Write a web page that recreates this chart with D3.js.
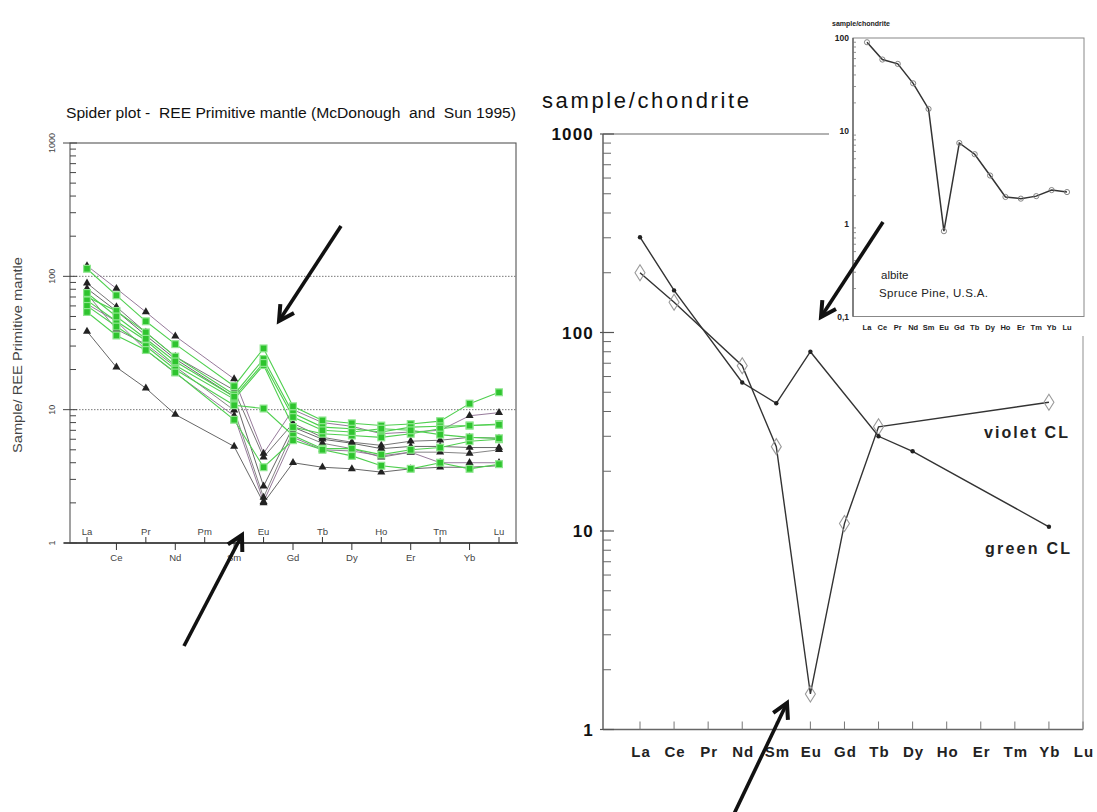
<!DOCTYPE html>
<html>
<head>
<meta charset="utf-8">
<script src="https://cdn.jsdelivr.net/npm/d3@7"></script>
<style>
  body { margin: 0; background: #fff; }
  svg { display: block; }
</style>
</head>
<body>
<svg id="fig" width="1097" height="812"></svg>
<script>
// ---------------- data ----------------
// Primitive-mantle normalised REE (Pm not analysed -> null)
const pmElements = ["La","Ce","Pr","Nd","Pm","Sm","Eu","Gd","Tb","Dy","Ho","Er","Tm","Yb","Lu"];
const pmTicks = [1, 10, 100, 1000];

const greenA = [114, 72, 46, 31, null, 15.0, 28.8, 10.6, 8.3, 7.9, 7.6, 7.8, 8.2, 11.1, 13.5];
const greenB = [70, 55, 38, 25, null, 13.0, 24.0, 9.4, 7.4, 7.2, 6.8, 7.4, 7.5, 7.6, 7.8];
const greenC = [66, 46, 33, 21.5, null, 12.0, 21.6, 7.4, 6.6, 6.4, 6.2, 6.6, 7.2, 7.6, 7.7];
const greenD = [60, 42, 30, 20, null, 10.8, 10.2, 6.4, 5.1, 5.1, 4.6, 5.0, 5.2, 5.8, 6.0];
const greenE = [54, 36, 28, 19, null, 8.4, 3.7, 5.9, 5.0, 4.5, 3.8, 3.6, 4.0, 3.6, 3.9];
const greenF = [75, 50, 34, 23, null, 12.5, 22.4, 8.8, 7.0, 6.8, 7.2, 7.0, 6.5, 6.2, 6.1];

const blackA = [120, 81, 54, 35.6, null, 17.0, 4.7, 10.0, 8.0, 7.5, 6.6, 6.8, 7.0, 9.0, 9.5];
const blackB = [89, 59, 38, 25, null, 14.0, 4.4, 7.9, 6.2, 5.7, 5.4, 5.8, 5.9, 6.2, 6.1];
const blackC = [81, 55, 36, 24, null, 12.5, 2.67, 7.4, 6.0, 5.6, 5.1, 5.3, 5.3, 5.2, 5.2];
const blackD = [74, 40, 31, 21, null, 9.9, 2.2, 6.9, 5.6, 5.1, 4.4, 4.8, 4.8, 4.7, 5.0];
const blackE = [62, 46, 28, 18.8, null, 9.0, 2.04, 6.2, 5.0, 4.9, 4.5, 4.8, 4.0, 4.0, 4.0];
const blackF = [38.7, 20.8, 14.5, 9.2, null, 5.3, 2.0, 4.0, 3.7, 3.6, 3.4, 3.6, 3.7, 3.7, 3.8];

// Chondrite normalised REE, cathodoluminescence-coloured feldspar
const chElements = ["La","Ce","Pr","Nd","Sm","Eu","Gd","Tb","Dy","Ho","Er","Tm","Yb","Lu"];
const chTicks = [1, 10, 100, 1000];
const violetCL = [200, 142, null, 68, 26.6, 1.51, 10.9, 33.5, null, null, null, null, 44.5, null];
const greenCL  = [302, 163, null, 56, 44, 80, null, 30, 25.2, null, null, null, 10.5, null];

// Albite, Spruce Pine, U.S.A.
const albite = [90, 58.6, 52.6, 32.5, 17.2, 0.83, 7.4, 5.6, 3.3, 1.94, 1.86, 1.98, 2.3, 2.19];
const albiteTicks = [0.1, 1, 10, 100];
const albiteTickText = ["0,1", "1", "10", "100"];

// ---------------- helpers ----------------
const svg = d3.select("#fig");
const FONT = "'Liberation Sans', Arial, Helvetica, sans-serif";

function pairs(domain, values) {
  return domain.map((e, i) => ({ e, v: values[i] })).filter(d => d.v != null);
}

function minorLogTicks(lo, hi) {
  const out = [];
  for (let dec = lo; dec < hi; dec *= 10) {
    for (let k = 2; k <= 9; k++) out.push(dec * k);
  }
  return out;
}

function arrow(g, tail, tip) {
  const ang = Math.atan2(tip[1] - tail[1], tip[0] - tail[0]);
  const len = 17, spread = 0.5;
  g.append("line")
    .attr("x1", tail[0]).attr("y1", tail[1])
    .attr("x2", tip[0] - 2 * Math.cos(ang)).attr("y2", tip[1] - 2 * Math.sin(ang))
    .attr("stroke", "#111").attr("stroke-width", 3.6);
  const a1 = [tip[0] - len * Math.cos(ang - spread), tip[1] - len * Math.sin(ang - spread)];
  const a2 = [tip[0] - len * Math.cos(ang + spread), tip[1] - len * Math.sin(ang + spread)];
  g.append("path")
    .attr("d", `M${a1}L${tip}L${a2}`)
    .attr("fill", "none").attr("stroke", "#111")
    .attr("stroke-width", 4).attr("stroke-linejoin", "miter");
}

// ---------------- left panel: primitive mantle spider plot ----------------
const L = { left: 70, right: 516, top: 143, bottom: 543, first: 87, last: 499 };
const xL = d3.scalePoint().domain(pmElements).range([L.first, L.last]);
const yL = d3.scaleLog().domain([1, 1000]).range([L.bottom, L.top]);
const gL = svg.append("g");

gL.append("text")
  .attr("x", 66).attr("y", 118)
  .attr("font-family", FONT).attr("font-size", 15.5).attr("fill", "#111")
  .attr("textLength", 450).attr("lengthAdjust", "spacingAndGlyphs")
  .style("white-space", "pre")
  .text("Spider plot -  REE Primitive mantle (McDonough  and  Sun 1995)");

// frame
gL.append("rect")
  .attr("x", L.left).attr("y", L.top)
  .attr("width", L.right - L.left).attr("height", L.bottom - L.top)
  .attr("fill", "none").attr("stroke", "#555").attr("stroke-width", 1.1);
gL.append("line")
  .attr("x1", L.left - 6).attr("x2", L.right + 2)
  .attr("y1", L.bottom).attr("y2", L.bottom)
  .attr("stroke", "#333").attr("stroke-width", 1.3);

// dotted reference lines
gL.selectAll("line.ref").data([10, 100]).join("line")
  .attr("x1", L.left).attr("x2", L.right)
  .attr("y1", d => yL(d)).attr("y2", d => yL(d))
  .attr("stroke", "#777").attr("stroke-width", 1).attr("stroke-dasharray", "1.5,1.5");

// y ticks
gL.selectAll("line.minor").data(minorLogTicks(1, 1000)).join("line")
  .attr("x1", L.left).attr("x2", L.left + 6)
  .attr("y1", d => yL(d)).attr("y2", d => yL(d))
  .attr("stroke", "#444").attr("stroke-width", 1);
gL.selectAll("line.major").data(pmTicks).join("line")
  .attr("x1", L.left - 7).attr("x2", L.left + 7)
  .attr("y1", d => yL(d)).attr("y2", d => yL(d))
  .attr("stroke", "#444").attr("stroke-width", 1);
gL.selectAll("text.ytick").data(pmTicks).join("text")
  .attr("transform", d => `translate(55,${yL(d)}) rotate(-90)`)
  .attr("text-anchor", "middle")
  .attr("font-family", FONT).attr("font-size", 9).attr("fill", "#444")
  .text(d => d);
gL.append("text")
  .attr("transform", "translate(22,355) rotate(-90)")
  .attr("text-anchor", "middle")
  .attr("font-family", FONT).attr("font-size", 12.5).attr("fill", "#444")
  .attr("textLength", 196).attr("lengthAdjust", "spacingAndGlyphs")
  .text("Sample/ REE Primitive mantle");

// x ticks, alternating above / below the axis
pmElements.forEach((el, i) => {
  const x = xL(el);
  const up = i % 2 === 0;
  gL.append("line")
    .attr("x1", x).attr("x2", x)
    .attr("y1", L.bottom).attr("y2", up ? L.bottom - 6 : L.bottom + 7)
    .attr("stroke", "#333").attr("stroke-width", 1);
  gL.append("text")
    .attr("x", x).attr("y", up ? L.bottom - 8 : L.bottom + 18)
    .attr("text-anchor", "middle")
    .attr("font-family", FONT).attr("font-size", 9.5).attr("fill", "#444")
    .text(el);
});

const lineL = d3.line().x(d => xL(d.e)).y(d => yL(d.v));
const triangle = d3.symbol().type(d3.symbolTriangle).size(28);

const blackSeries = [
  { values: blackA, stroke: "#8a6b8e" },
  { values: blackB, stroke: "#666" },
  { values: blackC, stroke: "#555" },
  { values: blackD, stroke: "#777" },
  { values: blackE, stroke: "#8a6b8e" },
  { values: blackF, stroke: "#555" }
];
const greenSeries = [greenA, greenB, greenC, greenD, greenE, greenF];

blackSeries.forEach(s => {
  const pts = pairs(pmElements, s.values);
  gL.append("path").attr("d", lineL(pts))
    .attr("fill", "none").attr("stroke", s.stroke).attr("stroke-width", 0.9);
});
greenSeries.forEach(vals => {
  const pts = pairs(pmElements, vals);
  gL.append("path").attr("d", lineL(pts))
    .attr("fill", "none").attr("stroke", "#4fcf4f").attr("stroke-width", 1.1);
});
blackSeries.forEach(s => {
  gL.append("g").selectAll("path").data(pairs(pmElements, s.values)).join("path")
    .attr("transform", d => `translate(${xL(d.e)},${yL(d.v)})`)
    .attr("d", triangle).attr("fill", "#222");
});
greenSeries.forEach(vals => {
  gL.append("g").selectAll("rect").data(pairs(pmElements, vals)).join("rect")
    .attr("x", d => xL(d.e) - 3.4).attr("y", d => yL(d.v) - 3.4)
    .attr("width", 6.8).attr("height", 6.8)
    .attr("fill", "#2ec42e").attr("stroke", "#8fe68f").attr("stroke-width", 1.2);
});

// ---------------- right panel: chondrite normalised ----------------
const R = { left: 603, right: 1083, top: 134, bottom: 729.5, first: 640, last: 1083, topEnd: 829, rightTop: 336 };
const xR = d3.scalePoint().domain(chElements).range([R.first, R.last]);
const yR = d3.scaleLog().domain([1, 1000]).range([R.bottom, R.top]);
const gR = svg.append("g");

gR.append("text")
  .attr("x", 542).attr("y", 108)
  .attr("font-family", FONT).attr("font-size", 22).attr("fill", "#111")
  .attr("textLength", 207).attr("lengthAdjust", "spacing")
  .text("sample/chondrite");

gR.append("line").attr("x1", R.left).attr("x2", R.topEnd)
  .attr("y1", R.top).attr("y2", R.top).attr("stroke", "#666").attr("stroke-width", 1.2);
gR.append("line").attr("x1", R.left).attr("x2", R.left)
  .attr("y1", R.top).attr("y2", R.bottom).attr("stroke", "#555").attr("stroke-width", 1.4);
gR.append("line").attr("x1", R.left).attr("x2", R.right)
  .attr("y1", R.bottom).attr("y2", R.bottom).attr("stroke", "#666").attr("stroke-width", 1.4);
gR.append("line").attr("x1", R.right).attr("x2", R.right)
  .attr("y1", R.rightTop).attr("y2", R.bottom).attr("stroke", "#999").attr("stroke-width", 1.1);

gR.selectAll("line.minor").data(minorLogTicks(1, 1000)).join("line")
  .attr("x1", R.left).attr("x2", R.left + 8)
  .attr("y1", d => yR(d)).attr("y2", d => yR(d))
  .attr("stroke", "#666").attr("stroke-width", 1);
gR.selectAll("line.major").data(chTicks).join("line")
  .attr("x1", R.left - 3).attr("x2", R.left + 11)
  .attr("y1", d => yR(d)).attr("y2", d => yR(d))
  .attr("stroke", "#555").attr("stroke-width", 1.2);
gR.selectAll("text.ytick").data(chTicks).join("text")
  .attr("x", 594).attr("y", d => yR(d) + 6)
  .attr("text-anchor", "end")
  .attr("font-family", FONT).attr("font-size", 17).attr("font-weight", "bold")
  .attr("letter-spacing", 1.2).attr("fill", "#111")
  .text(d => d);

gR.selectAll("line.xtick").data(chElements).join("line")
  .attr("x1", d => xR(d)).attr("x2", d => xR(d))
  .attr("y1", R.bottom).attr("y2", R.bottom - 8)
  .attr("stroke", "#777").attr("stroke-width", 1);
gR.selectAll("text.xtick").data(chElements).join("text")
  .attr("x", d => xR(d) + 1).attr("y", R.bottom + 27)
  .attr("text-anchor", "middle")
  .attr("font-family", FONT).attr("font-size", 15).attr("font-weight", "bold")
  .attr("letter-spacing", 1).attr("fill", "#222")
  .text(d => d);

const lineR = d3.line().x(d => xR(d.e)).y(d => yR(d.v));
const violetPts = pairs(chElements, violetCL);
const greenPts = pairs(chElements, greenCL);

gR.append("path").attr("d", lineR(violetPts))
  .attr("fill", "none").attr("stroke", "#333").attr("stroke-width", 1.4);
gR.append("path").attr("d", lineR(greenPts))
  .attr("fill", "none").attr("stroke", "#333").attr("stroke-width", 1.4);

gR.append("g").selectAll("path").data(violetPts).join("path")
  .attr("transform", d => `translate(${xR(d.e)},${yR(d.v)})`)
  .attr("d", "M0,-8L5,0L0,8L-5,0Z")
  .attr("fill", "none").attr("stroke", "#999").attr("stroke-width", 1.1);
gR.append("g").selectAll("circle").data(greenPts).join("circle")
  .attr("cx", d => xR(d.e)).attr("cy", d => yR(d.v)).attr("r", 2.2)
  .attr("fill", "#222");

gR.append("text").attr("x", 984).attr("y", 438)
  .attr("font-family", FONT).attr("font-size", 16).attr("font-weight", "bold")
  .attr("fill", "#222").attr("textLength", 84).attr("lengthAdjust", "spacing")
  .text("violet CL");
gR.append("text").attr("x", 985).attr("y", 554)
  .attr("font-family", FONT).attr("font-size", 16).attr("font-weight", "bold")
  .attr("fill", "#222").attr("textLength", 85).attr("lengthAdjust", "spacing")
  .text("green CL");

// ---------------- inset: albite ----------------
const I = { left: 853, right: 1084, top: 38, bottom: 316.5, first: 867, last: 1067 };
const xI = d3.scalePoint().domain(chElements).range([I.first, I.last]);
const yI = d3.scaleLog().domain([0.1, 100]).range([I.bottom, I.top]);
const gI = svg.append("g");

gI.append("rect").attr("x", I.left).attr("y", I.top)
  .attr("width", I.right - I.left).attr("height", I.bottom - I.top)
  .attr("fill", "#fff").attr("stroke", "#888").attr("stroke-width", 1);
gI.append("line").attr("x1", I.left).attr("x2", I.left)
  .attr("y1", I.top).attr("y2", I.bottom).attr("stroke", "#555").attr("stroke-width", 1.2);

gI.append("text").attr("x", 832).attr("y", 26)
  .attr("font-family", FONT).attr("font-size", 7).attr("font-weight", "bold")
  .attr("fill", "#222").attr("textLength", 58).attr("lengthAdjust", "spacing")
  .text("sample/chondrite");

gI.selectAll("line.minor").data(minorLogTicks(0.1, 100)).join("line")
  .attr("x1", I.left).attr("x2", I.left + 3)
  .attr("y1", d => yI(d)).attr("y2", d => yI(d))
  .attr("stroke", "#777").attr("stroke-width", 0.8);
gI.selectAll("text.ytick").data(albiteTicks).join("text")
  .attr("x", 849).attr("y", d => yI(d) + 3)
  .attr("text-anchor", "end")
  .attr("font-family", FONT).attr("font-size", 8.5).attr("font-weight", "bold")
  .attr("fill", "#222")
  .text((d, i) => albiteTickText[i]);
gI.selectAll("text.xtick").data(chElements).join("text")
  .attr("x", d => xI(d)).attr("y", 330)
  .attr("text-anchor", "middle")
  .attr("font-family", FONT).attr("font-size", 7.5).attr("font-weight", "bold")
  .attr("fill", "#222")
  .text(d => d);

const albitePts = pairs(chElements, albite);
gI.append("path")
  .attr("d", d3.line().x(d => xI(d.e)).y(d => yI(d.v))(albitePts))
  .attr("fill", "none").attr("stroke", "#333").attr("stroke-width", 1.5);
gI.append("g").selectAll("circle").data(albitePts).join("circle")
  .attr("cx", d => xI(d.e)).attr("cy", d => yI(d.v)).attr("r", 2.6)
  .attr("fill", "none").attr("stroke", "#777").attr("stroke-width", 0.9);

gI.append("text").attr("x", 881).attr("y", 279)
  .attr("font-family", FONT).attr("font-size", 11.5).attr("fill", "#222")
  .text("albite");
gI.append("text").attr("x", 879).attr("y", 297)
  .attr("font-family", FONT).attr("font-size", 11.5).attr("fill", "#222")
  .attr("textLength", 109).attr("lengthAdjust", "spacing")
  .text("Spruce Pine, U.S.A.");

// ---------------- callout arrows at the Eu anomalies ----------------
const calloutArrows = [
  { tail: [341, 226], tip: [279, 321] },
  { tail: [184, 646], tip: [242, 535] },
  { tail: [883, 222], tip: [821, 317] },
  { tail: [733, 816], tip: [787, 703] }
];
const gA = svg.append("g");
calloutArrows.forEach(a => arrow(gA, a.tail, a.tip));
</script>
</body>
</html>
